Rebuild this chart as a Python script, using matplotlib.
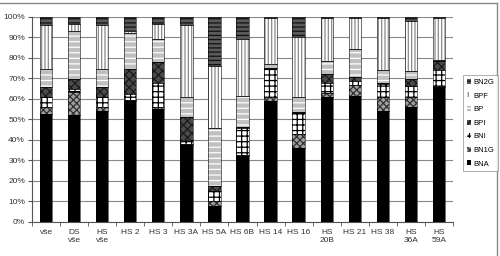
import matplotlib
matplotlib.use("Agg")
import matplotlib.pyplot as plt
import numpy as np
from matplotlib.lines import Line2D

categories = ["vše", "DS\nvše", "HS\nvše", "HS 2", "HS 3", "HS 3A", "HS 5A", "HS 6B",
              "HS 14", "HS 16", "HS\n20B", "HS 21", "HS 38", "HS\n36A", "HS\n59A"]

BNA  = [52.8, 52.1, 54.2, 59.0, 55.2, 37.7,  7.6, 32.3, 58.8, 36.0, 60.9, 61.5, 53.9, 56.3, 65.7]
BN1G = [ 3.2, 11.5,  2.1,  0.5,  1.1,  0.5,  2.5,  0.5,  2.1,  7.0,  1.9,  5.4,  7.0,  4.6,  0.5]
BNI  = [ 4.9,  1.2,  4.6,  3.0, 11.7,  2.0,  4.8, 13.0, 14.1, 10.1,  5.2,  1.6,  6.5,  5.5,  8.0]
BPI  = [ 4.8,  5.0,  4.8, 12.0, 10.2, 11.0,  2.5,  0.7,  0.3,  0.5,  4.2,  2.4,  0.5,  3.2,  4.5]
BP   = [ 8.8, 23.2,  8.8, 17.5, 10.9,  9.8, 28.4, 15.0,  1.8,  7.3,  6.5, 13.4,  6.0,  3.8,  0.3]
BPF  = [21.6,  3.5, 21.6,  1.0,  7.5, 35.2, 30.3, 27.6, 22.3, 29.2, 20.7, 15.1, 25.5, 24.8, 20.7]
BN2G = [ 3.9,  3.5,  3.9,  7.0,  3.4,  3.9, 23.9, 10.9,  0.6,  9.9,  0.6,  0.6,  0.6,  1.8,  0.3]

series_names = ["BNA", "BN1G", "BNI", "BPI", "BP", "BPF", "BN2G"]
series_vals = [BNA, BN1G, BNI, BPI, BP, BPF, BN2G]
styles = {
    "BNA":  dict(facecolor="black", hatch=None, edgecolor="black"),
    "BN1G": dict(facecolor="#a0a0a0", hatch="xxxxx", edgecolor="#303030"),
    "BNI":  dict(facecolor="white", hatch="+++", edgecolor="black"),
    "BPI":  dict(facecolor="#4a4a4a", hatch="xxxx", edgecolor="#1a1a1a"),
    "BP":   dict(facecolor="#c0c0c0", hatch="---", edgecolor="white"),
    "BPF":  dict(facecolor="white", hatch="|||||", edgecolor="#8a8a8a"),
    "BN2G": dict(facecolor="#5a5a5a", hatch="----", edgecolor="#111111"),
}

plt.rcParams["font.family"] = ["Liberation Sans", "DejaVu Sans"]
plt.rcParams["hatch.linewidth"] = 0.9

fig = plt.figure(figsize=(5.0, 2.56), dpi=100)
ax = fig.add_axes([0.064, 0.133, 0.842, 0.801])

x = np.arange(len(categories))
width = 0.44
bottom = np.zeros(len(categories))
handles = []
for name, vals in zip(series_names, series_vals):
    vals = np.array(vals, dtype=float)
    st = styles[name]
    bars = ax.bar(x, vals, width, bottom=bottom, facecolor=st["facecolor"],
                  hatch=st["hatch"], edgecolor=st["edgecolor"], linewidth=0, zorder=3, label=name)
    handles.append(bars)
    bottom += vals
# outline around each stacked segment
bottom = np.zeros(len(categories))
for vals in series_vals:
    vals = np.array(vals, dtype=float)
    ax.bar(x, vals, width, bottom=bottom, fill=False, edgecolor="black", linewidth=0.4, zorder=4)
    bottom += vals

ax.set_xlim(-0.5, len(categories) - 0.5)
ax.set_ylim(0, 100)
ax.set_yticks(np.arange(0, 101, 10))
ax.set_yticklabels([f"{v}%" for v in range(0, 101, 10)], fontsize=6)
ax.set_xticks(x)
ax.set_xticklabels(categories, fontsize=6, color="#333333", linespacing=1.3)
ax.tick_params(axis="x", length=0, pad=5)
ax.set_xticks(np.arange(-0.5, len(categories), 1), minor=True)
ax.tick_params(axis="x", which="minor", length=3, direction="out", color="#555555")
ax.tick_params(axis="y", length=3, direction="out", color="#555555", pad=2, labelcolor="#333333")
ax.yaxis.grid(True, color="#888888", linewidth=0.8, zorder=0)
ax.set_axisbelow(True)
for s in ["top", "right"]:
    ax.spines[s].set_visible(False)
for s in ["left", "bottom"]:
    ax.spines[s].set_color("#555555")
    ax.spines[s].set_linewidth(0.8)

leg = fig.legend(handles[::-1], series_names[::-1], loc="upper left",
                 bbox_to_anchor=(0.926, 1 - 75 / 256), fontsize=5.5, frameon=True,
                 fancybox=False, edgecolor="#888888", handlelength=0.6, handleheight=0.6,
                 handletextpad=0.3, labelspacing=0.85, borderpad=0.5, borderaxespad=0)
leg.get_frame().set_linewidth(0.6)

fig.add_artist(Line2D([0, 0.994], [0.988, 0.988], color="#888888", linewidth=1, transform=fig.transFigure))
fig.add_artist(Line2D([0.994, 0.994], [0, 0.988], color="#888888", linewidth=1, transform=fig.transFigure))

fig.savefig("out.png", dpi=100)
